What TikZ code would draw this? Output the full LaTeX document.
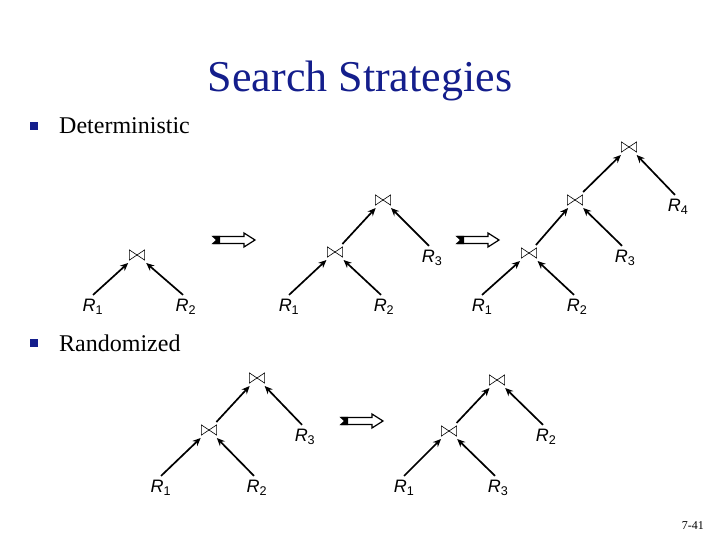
\documentclass[tikz,border=0pt]{standalone}
\usepackage{fontspec}
\setmainfont{Liberation Serif}
\newfontfamily\arialf{Liberation Sans}
\usetikzlibrary{arrows.meta}
\definecolor{bulletblue}{RGB}{20,30,140}
\tikzset{
  joinnode/.style={minimum width=16, minimum height=11, inner sep=0, outer sep=2.5,
    path picture={
      \draw[line width=0.6]
        ([xshift=0.4pt,yshift=-0.4pt]path picture bounding box.north west) --
        ([xshift=0.4pt,yshift=0.4pt]path picture bounding box.south west) --
        (path picture bounding box.center) -- cycle;
      \draw[line width=0.6]
        ([xshift=-0.4pt,yshift=-0.4pt]path picture bounding box.north east) --
        ([xshift=-0.4pt,yshift=0.4pt]path picture bounding box.south east) --
        (path picture bounding box.center) -- cycle;
    }},
  rel/.style={font=\arialf\fontsize{18}{18}\selectfont, inner sep=1, outer sep=1.5},
  arr/.style={-{Stealth[length=8,width=7]}, line width=1.7},
  bul/.style={fill=bulletblue, minimum size=8, inner sep=0},
  btext/.style={font=\fontsize{24}{24}\selectfont, anchor=base west, inner sep=0},
  dbl/.style={line width=1.2, fill=white, line join=miter},
}
\newcommand{\Rl}[1]{\textit{R}\textsubscript{#1}}
\begin{document}
\begin{tikzpicture}[x=1pt,y=-1pt]
\useasboundingbox[fill=white] (0,0) rectangle (720,540);
% title
\node[font=\fontsize{44}{44}\selectfont, anchor=base, inner sep=0, text=bulletblue] (title) at (360,92) {Search Strategies};
% bullets
\node[bul] (b1) at (34,126) {};
\node[btext] (t1) at (59,134) {Deterministic};
\node[bul] (b2) at (34,343) {};
\node[btext] (t2) at (59,351) {Randomized};
% footer
\node[font=\fontsize{12}{12}\selectfont, anchor=base east, inner sep=0] (pg) at (704,529) {7-41};

% ---- Deterministic tree 1
\node[joinnode] (a1) at (137,255) {};
\node[rel] (ar1) at (93,307) {\Rl{1}};
\node[rel] (ar2) at (186,307) {\Rl{2}};
\draw[arr] ([yshift=2pt]ar1.north) -- (a1);
\draw[arr] ([yshift=2pt,xshift=-3pt]ar2.north) -- (a1);

% ---- tree 2
\node[joinnode] (b_top) at (383,200) {};
\node[joinnode] (b_mid) at (335,252) {};
\node[rel] (br3) at (432,258) {\Rl{3}};
\node[rel] (br1) at (289,307) {\Rl{1}};
\node[rel] (br2) at (384,307) {\Rl{2}};
\draw[arr] (b_mid) -- (b_top);
\draw[arr] ([yshift=2pt,xshift=-3pt]br3.north) -- (b_top);
\draw[arr] ([yshift=2pt]br1.north) -- (b_mid);
\draw[arr] ([yshift=2pt,xshift=-3pt]br2.north) -- (b_mid);

% ---- tree 3
\node[joinnode] (c_top) at (629,147) {};
\node[joinnode] (c_mid) at (575,200) {};
\node[joinnode] (c_low) at (529,253) {};
\node[rel] (cr4) at (678,207) {\Rl{4}};
\node[rel] (cr3) at (625,258) {\Rl{3}};
\node[rel] (cr1) at (482,307) {\Rl{1}};
\node[rel] (cr2) at (577,307) {\Rl{2}};
\draw[arr] (c_mid) -- (c_top);
\draw[arr] ([yshift=2pt,xshift=-3pt]cr4.north) -- (c_top);
\draw[arr] (c_low) -- (c_mid);
\draw[arr] ([yshift=2pt,xshift=-3pt]cr3.north) -- (c_mid);
\draw[arr] ([yshift=2pt]cr1.north) -- (c_low);
\draw[arr] ([yshift=2pt,xshift=-3pt]cr2.north) -- (c_low);

% ---- Randomized tree A
\node[joinnode] (d_top) at (257,378) {};
\node[joinnode] (d_mid) at (209,430) {};
\node[rel] (dr3) at (305,437) {\Rl{3}};
\node[rel] (dr1) at (161,488) {\Rl{1}};
\node[rel] (dr2) at (257,488) {\Rl{2}};
\draw[arr] (d_mid) -- (d_top);
\draw[arr] ([yshift=2pt,xshift=-3pt]dr3.north) -- (d_top);
\draw[arr] ([yshift=2pt]dr1.north) -- (d_mid);
\draw[arr] ([yshift=2pt,xshift=-3pt]dr2.north) -- (d_mid);

% ---- Randomized tree B
\node[joinnode] (e_top) at (497,380) {};
\node[joinnode] (e_mid) at (449,431) {};
\node[rel] (er2) at (546,437) {\Rl{2}};
\node[rel] (er1) at (404,488) {\Rl{1}};
\node[rel] (er3) at (498,488) {\Rl{3}};
\draw[arr] (e_mid) -- (e_top);
\draw[arr] ([yshift=2pt,xshift=-3pt]er2.north) -- (e_top);
\draw[arr] ([yshift=2pt]er1.north) -- (e_mid);
\draw[arr] ([yshift=2pt,xshift=-3pt]er3.north) -- (e_mid);

% ---- double arrows
\foreach \x/\y in {213/240, 457/240, 341/421} {
  \draw[dbl] (\x,\y-3.5) -- (\x+31,\y-3.5) -- (\x+31,\y-7) -- (\x+42,\y) -- (\x+31,\y+7)
    -- (\x+31,\y+3.5) -- (\x,\y+3.5) -- (\x+4,\y) -- cycle;
  \fill (\x,\y-4.2) -- (\x+7,\y-4.2) -- (\x+7,\y+4.2) -- (\x,\y+4.2) -- (\x+3,\y) -- cycle;
}
\end{tikzpicture}
\end{document}
